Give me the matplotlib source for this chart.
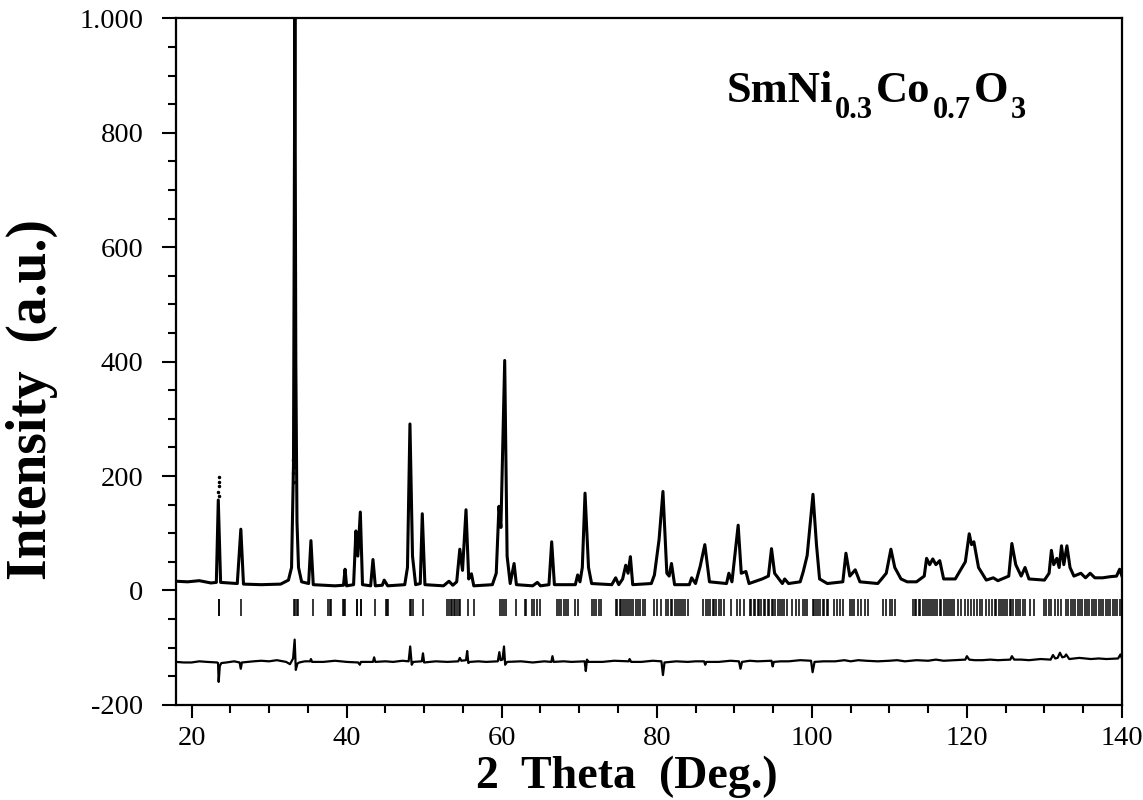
import matplotlib
matplotlib.use("Agg")
import matplotlib.pyplot as plt

plt.rcParams['font.family'] = ['Liberation Serif', 'DejaVu Serif']

# calculated profile (2theta, intensity)
calc_x = [18.0, 19.5, 21.0, 22.5, 23.2, 23.45, 23.75, 25.9, 26.36, 26.7, 29.0, 31.5,
          32.5, 32.9, 33.15, 33.33, 33.45, 33.6, 33.8, 34.2, 35.1, 35.4, 35.7, 38.5,
          39.6, 39.8, 40.0, 40.9, 41.2, 41.45, 41.77, 42.05, 43.1, 43.4, 43.7, 44.6,
          44.85, 45.3, 47.5, 47.85, 48.17, 48.5, 48.9, 49.5, 49.76, 50.1, 52.5, 53.2,
          53.7, 54.2, 54.6, 54.95, 55.4, 55.75, 56.1, 56.4, 58.8, 59.3, 59.65, 59.9,
          60.39, 60.7, 61.1, 61.6, 61.9, 64.0, 64.6, 65.0, 66.1, 66.45, 66.8, 69.5,
          69.8, 70.1, 70.4, 70.75, 71.2, 71.6, 74.2, 74.7, 75.1, 75.6, 76.0, 76.3,
          76.6, 76.9, 79.3, 79.7, 80.3, 80.8, 81.3, 81.6, 81.9, 82.3, 84.2, 84.5,
          85.0, 85.6, 86.2, 86.8, 89.0, 89.3, 89.7, 90.5, 90.9, 91.5, 91.9, 93.6,
          94.4, 94.8, 95.2, 96.2, 96.5, 97.0, 98.5, 98.9, 99.4, 100.15, 100.6, 101.0,
          102.0, 104.0, 104.4, 104.9, 105.6, 106.2, 108.5, 109.0, 109.6, 110.2, 110.7,
          111.5, 112.3, 113.5, 114.5, 114.8, 115.2, 115.6, 116.0, 116.5, 117.0, 118.5,
          119.1, 119.8, 120.3, 120.6, 120.9, 121.5, 122.5, 123.4, 124.0, 125.4, 125.8,
          126.3, 127.0, 127.5, 128.0, 130.0, 130.6, 130.9, 131.2, 131.6, 131.9, 132.2,
          132.5, 132.9, 133.3, 133.8, 134.7, 135.3, 135.9, 136.5, 137.5, 138.5, 139.3,
          139.7, 140.0]
calc_y = [16, 15, 17, 13, 14, 158, 14, 12, 107, 11, 10, 11,
          18, 40, 220, 1000, 400, 120, 40, 15, 12, 87, 10, 8,
          9, 37, 8, 10, 104, 60, 137, 10, 8, 54, 8, 9,
          18, 8, 10, 40, 291, 60, 10, 12, 134, 10, 8, 16,
          9, 15, 72, 35, 141, 20, 29, 8, 10, 30, 147, 110,
          402, 60, 12, 47, 10, 8, 14, 8, 10, 85, 10, 10,
          27, 15, 40, 170, 40, 12, 10, 22, 10, 20, 44, 30,
          59, 10, 12, 27, 89, 173, 30, 25, 47, 10, 10, 22,
          12, 42, 80, 15, 12, 30, 15, 114, 30, 33, 12, 20,
          25, 73, 30, 12, 20, 12, 15, 33, 61, 168, 80, 20,
          12, 15, 65, 25, 36, 15, 12, 20, 30, 72, 40,
          20, 15, 15, 25, 56, 45, 55, 45, 52, 20, 20,
          34, 50, 99, 80, 85, 40, 18, 22, 17, 25, 82,
          45, 25, 40, 20, 18, 30, 70, 45, 56, 40, 78,
          45, 78, 40, 25, 30, 22, 30, 22, 22, 24, 25,
          37, 25]

# observed points sitting off the calculated line
obs_x = [23.47, 23.48, 23.5, 23.5, 23.52, 33.12, 33.15, 33.18, 33.2, 59.6, 59.7, 59.8]
obs_y = [172, 182, 190, 198, 165, 205, 228, 190, 215, 130, 120, 140]

# difference curve (obs - calc, offset)
diff_x = [18, 19, 20, 21, 22, 23.3, 23.42, 23.5, 23.65, 23.85,
          24.5, 25.5, 26.2, 26.35, 26.5, 28, 29, 30, 31, 32.2,
          32.7, 32.9, 33.1, 33.3, 33.45, 33.65, 33.9, 34.6, 35.3, 35.4,
          35.55, 37, 38.5, 40, 41.5, 41.7, 41.85, 43.4, 43.55, 43.7,
          45, 46, 47.2, 48.0, 48.2, 48.4, 48.6, 49.7, 49.85, 50.0,
          51.5, 53, 54.4, 54.6, 54.8, 55.4, 55.55, 55.7, 55.9, 57,
          58, 59.5, 59.7, 59.85, 60.1, 60.3, 60.45, 60.7, 62.5, 64,
          65.5, 66.4, 66.55, 66.7, 68, 69, 70.7, 70.85, 71.0, 71.2,
          73, 74.5, 76.4, 76.5, 76.7, 78, 79.5, 80.6, 80.8, 81.0,
          82.5, 84, 85, 86.1, 86.25, 86.4, 88, 89.5, 90.6, 90.8,
          91.0, 92, 93, 94.8, 94.95, 95.1, 96, 97, 98.5, 99.9,
          100.1, 100.35, 101.5, 103, 104.2, 105, 106, 107, 108.5, 110,
          111, 112, 113.5, 115, 116, 117, 118.5, 119.8, 120.0, 120.3,
          121, 122, 123, 124, 125.6, 125.8, 126.1, 127, 128, 129.5,
          130.8, 131.1, 131.4, 131.7, 132.0, 132.3, 132.6, 132.8, 133.2, 134.5,
          136, 137, 138, 139.5, 139.8, 140]
diff_y = [-125, -126, -126, -124, -125, -126, -127, -160, -132, -127,
          -126, -124, -126, -137, -126, -124, -123, -124, -122, -125,
          -129, -124, -119, -86, -139, -128, -126, -124, -124, -120,
          -125, -125, -123, -125, -126, -130, -125, -125, -117, -125,
          -124, -125, -123, -124, -98, -130, -125, -124, -110, -126,
          -124, -125, -124, -118, -123, -122, -106, -127, -125, -124,
          -125, -124, -108, -122, -121, -98, -130, -125, -124, -126,
          -124, -125, -115, -125, -124, -125, -124, -141, -121, -125,
          -125, -123, -124, -120, -125, -125, -123, -124, -148, -126,
          -124, -125, -124, -124, -130, -125, -125, -123, -124, -137,
          -125, -123, -124, -123, -133, -125, -124, -124, -122, -123,
          -143, -125, -124, -124, -122, -124, -122, -123, -124, -123,
          -122, -124, -122, -123, -121, -123, -122, -121, -115, -121,
          -122, -122, -121, -122, -121, -115, -121, -121, -122, -120,
          -121, -113, -119, -118, -109, -117, -116, -112, -120, -118,
          -120, -119, -120, -119, -112, -119]

# Bragg reflection positions
bragg = [23.5, 23.6, 26.4, 33.2, 33.3, 33.6, 33.7, 35.65, 37.6, 37.8, 38.0, 39.5, 39.7,
         39.8, 41.3, 41.4, 41.8, 41.9, 43.6, 45.1, 45.2, 45.3, 48.2, 48.3, 48.5, 49.9,
         53.0, 53.2, 53.4, 53.6, 53.8, 54.0, 54.2, 54.5, 54.6, 55.6, 56.4, 59.8, 60.1,
         60.3, 60.5, 61.9, 63.0, 63.2, 63.9, 64.2, 64.5, 64.9, 67.1, 67.4, 67.7, 68.0,
         68.3, 68.6, 69.5, 69.8, 71.6, 71.9, 72.2, 72.5, 72.8, 74.7, 74.9, 75.2, 75.4,
         75.7, 75.9, 76.2, 76.4, 76.7, 77.0, 77.3, 77.6, 77.9, 78.2, 78.5, 79.7, 80.0,
         80.5, 81.2, 81.5, 81.8, 82.0, 82.3, 82.6, 82.9, 83.1, 83.4, 83.7, 84.0, 86.0,
         86.3, 86.6, 86.9, 87.2, 87.4, 87.7, 88.0, 88.3, 88.7, 89.6, 90.3, 90.8, 91.2,
         92.0, 92.2, 92.5, 92.7, 93.0, 93.2, 93.5, 93.8, 94.0, 94.3, 94.5, 94.8, 95.0,
         95.3, 95.6, 95.9, 96.1, 96.4, 96.8, 97.5, 97.9, 98.4, 98.8, 99.1, 99.4, 100.1,
         100.3, 100.6, 100.8, 101.1, 101.4, 101.6, 101.9, 102.1, 102.8, 103.2, 103.6,
         104.0, 104.9, 105.2, 105.5, 105.9, 106.3, 106.8, 107.3, 109.2, 109.6, 110.1,
         110.4, 110.7, 113.0, 113.3, 113.5, 113.8, 114.0, 114.3, 114.6, 114.8, 115.1,
         115.4, 115.6, 115.9, 116.2, 116.5, 116.7, 117.0, 117.3, 117.6, 117.8, 118.1,
         118.4, 118.9, 119.3, 119.8, 120.2, 120.5, 120.9, 121.3, 121.7, 122.0, 122.4,
         122.8, 123.2, 123.6, 123.8, 124.1, 124.4, 124.6, 124.9, 125.2, 125.5, 125.7,
         126.0, 126.3, 126.6, 126.9, 127.2, 127.5, 128.2, 128.7, 129.9, 130.2, 130.6,
         130.9, 131.3, 131.7, 132.1, 132.8, 133.1, 133.4, 133.7, 134.0, 134.3, 134.6,
         134.9, 135.2, 135.5, 135.8, 136.1, 136.4, 136.7, 137.0, 137.3, 137.6, 137.9,
         138.2, 138.5, 138.8, 139.1, 139.4, 139.7]

yticks = [-200, 0, 200, 400, 600, 800, 1000]
ytick_labels = ['-200', '0', '200', '400', '600', '800', '1.000']
xticks = [20, 40, 60, 80, 100, 120, 140]

# formula label pieces: (text, size, lowered)
formula = [('SmNi', 32, False), ('0.3', 22, True), ('Co', 32, False),
           ('0.7', 22, True), ('O', 32, False), ('3', 22, True)]

W, H = 1143, 800
fig = plt.figure(figsize=(W / 100, H / 100), dpi=100)
ax = fig.add_axes([0.154, 0.119, 0.8276, 0.858])

ax.plot(calc_x, calc_y, color='black', lw=2.2)
ax.plot(obs_x, obs_y, ls='none', marker='.', ms=3, color='black')
ax.plot(diff_x, diff_y, color='black', lw=1.6)
ax.vlines(bragg, -45, -15, color='black', lw=1.1)

ax.set_xlim(18, 140)
ax.set_ylim(-200, 1000)
ax.set_xticks(xticks)
ax.set_xticks(range(20, 141, 5), minor=True)
ax.set_yticks(yticks)
ax.set_yticklabels(ytick_labels)
ax.set_yticks(range(-200, 1001, 50), minor=True)

ax.tick_params(axis='y', which='major', length=10, width=1.5, pad=13.5, labelsize=20.5)
ax.tick_params(axis='y', which='minor', length=6, width=1.5)
ax.tick_params(axis='x', which='major', length=9, width=1.5, pad=6, labelsize=20.5)
ax.tick_params(axis='x', which='minor', length=6, width=1.5)
for s in ax.spines.values():
    s.set_linewidth(1.6)

fig.text(627 / W, 1 - 788 / H, '2  Theta  (Deg.)', fontsize=33, fontweight='bold',
         ha='center', va='baseline')
fig.text(46 / W, 1 - 399 / H, 'Intensity  (a.u.)', fontsize=40, fontweight='bold',
         rotation=90, rotation_mode='anchor', ha='center', va='baseline')

renderer = fig.canvas.get_renderer()
x = 727
for s, size, low in formula:
    y = 800 - 118 if low else 800 - 102
    t = fig.text(x / W, y / H, s, fontsize=size, fontweight='bold',
                 ha='left', va='baseline')
    bb = t.get_window_extent(renderer)
    x = bb.x1 + (3 if low else 2)

fig.savefig('out.png', dpi=100)
